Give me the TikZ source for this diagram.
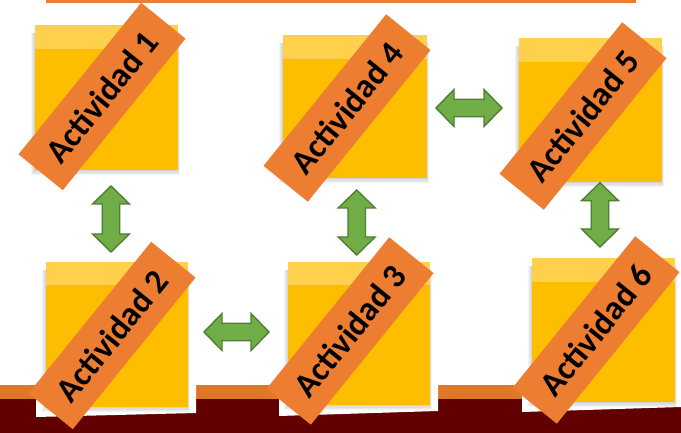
\documentclass[tikz,border=0pt]{standalone}
\usepackage{fontspec}
\setmainfont{Carlito}
\definecolor{notey}{RGB}{253,190,0}
\definecolor{notelt}{RGB}{254,208,76}
\definecolor{bannero}{RGB}{237,125,49}
\definecolor{stripeo}{RGB}{221,120,40}
\definecolor{darkred}{RGB}{96,0,0}
\definecolor{arrowg}{RGB}{112,173,71}
\definecolor{arrowgd}{RGB}{80,126,50}
\tikzset{
  banner/.style={fill=bannero, rotate=51, minimum width=195pt, minimum height=57pt,
    inner sep=0pt, font=\fontsize{34}{34}\selectfont\bfseries, text=black},
  blockarrow/.style={fill=arrowg, draw=arrowgd, line width=1.4pt, line join=miter},
  notebg/.style={fill=white},
}
\newcommand\stickynote[5]{%
  \foreach \d in {1,2,3,4}{%
    \fill[black,opacity=0.045] ({#1-\d},{#3-1.3*\d}) rectangle ({#2+0.4*\d},{#4-8});}
  \fill[notey] (#1,#3) rectangle (#2,#4);
  \fill[notelt] (#1,#5) rectangle (#2,#4);
}
\newcommand\vdarrow[3]{%
  \draw[blockarrow] (#1,#2) -- ({#1+18.5},{#2-18}) -- ({#1+8.75},{#2-18}) -- ({#1+8.75},{#3+18})
    -- ({#1+18.5},{#3+18}) -- (#1,#3) -- ({#1-18.5},{#3+18}) -- ({#1-8.75},{#3+18})
    -- ({#1-8.75},{#2-18}) -- ({#1-18.5},{#2-18}) -- cycle;}
\newcommand\hdarrow[3]{%
  \draw[blockarrow] (#2,#1) -- ({#2+18},{#1+18.5}) -- ({#2+18},{#1+8.75}) -- ({#3-18},{#1+8.75})
    -- ({#3-18},{#1+18.5}) -- (#3,#1) -- ({#3-18},{#1-18.5}) -- ({#3-18},{#1-8.75})
    -- ({#2+18},{#1-8.75}) -- ({#2+18},{#1-18.5}) -- cycle;}
\begin{document}
\begin{tikzpicture}[x=1pt,y=1pt]
\useasboundingbox (0,0) rectangle (681,433);
% top line
\fill[bannero] (46,429.5) rectangle (636,433);
% bottom bands
\fill[darkred] (0,0) rectangle (681,34);
\fill[stripeo] (0,34) rectangle (681,48);
% white image backgrounds over the bands
\fill[notebg] (36,60) -- (196,60) -- (196,20) -- (36,16) -- cycle;
\fill[notebg] (279,60) -- (438,60) -- (438,22) -- (279,17) -- cycle;
\fill[notebg] (522,60) -- (681,60) -- (681,26) -- (522,21) -- cycle;
% sticky notes
\stickynote{35}{178}{263}{408}{384}
\stickynote{46}{188}{26}{171}{148}
\stickynote{288}{430}{28}{171}{148}
\stickynote{283}{427}{255}{398}{374}
\stickynote{519}{662}{251}{395}{371}
\stickynote{532}{675}{31}{175}{151}
% banners
\node[banner] (b1) at (102,336.5) {Actividad 1};
\node[banner] (b2) at (112,97.5) {Actividad 2};
\node[banner] (b3) at (350,102) {Actividad 3};
\node[banner] (b4) at (347,325) {Actividad 4};
\node[banner] (b5) at (583,317) {Actividad 5};
\node[banner] (b6) at (596,103) {Actividad 6};
% arrows
\vdarrow{111}{247}{181}
\vdarrow{356.7}{243}{178}
\vdarrow{600}{250.3}{186}
\hdarrow{325}{436}{502}
\hdarrow{101}{204}{269}
\end{tikzpicture}
\end{document}
